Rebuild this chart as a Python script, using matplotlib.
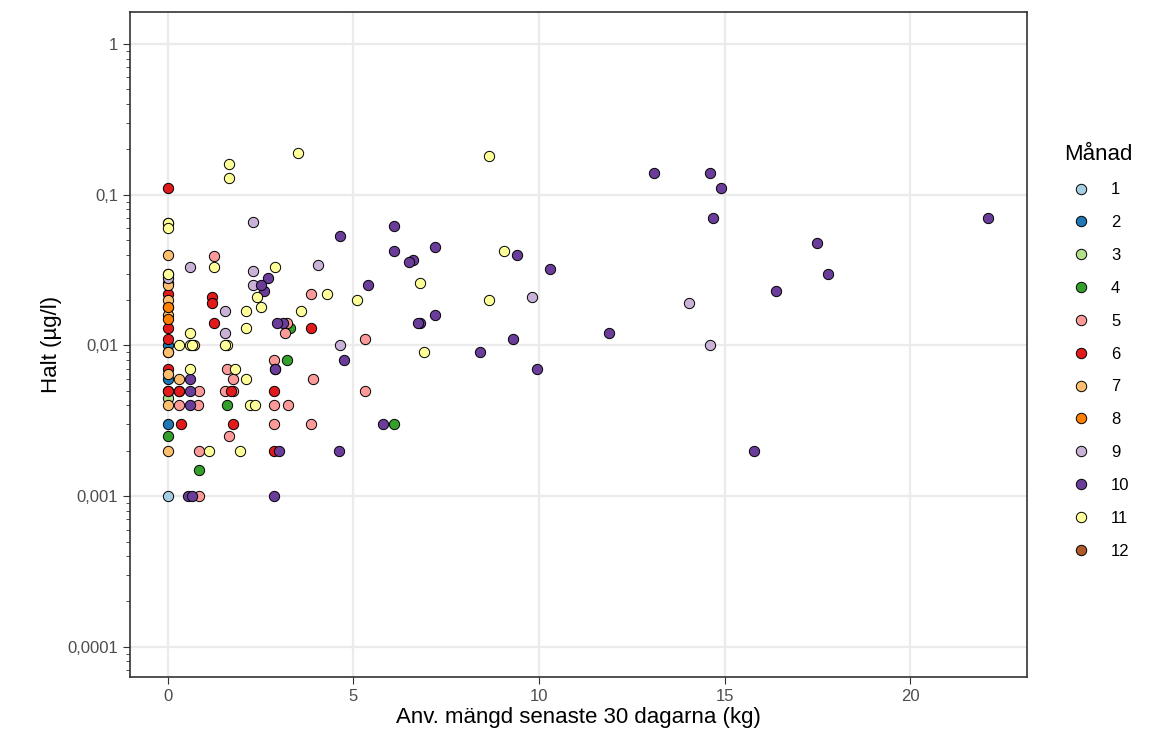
import matplotlib
matplotlib.use("Agg")
import matplotlib.pyplot as plt
from matplotlib.ticker import LogLocator, NullFormatter
from matplotlib.lines import Line2D

plt.rcParams["font.family"] = ["Liberation Sans", "DejaVu Sans"]

palette = ["#A6CEE3", "#1F78B4", "#B2DF8A", "#33A02C", "#FB9A99", "#E31A1C",
           "#FDBF6F", "#FF7F00", "#CAB2D6", "#6A3D9A", "#FFFF99", "#B15928"]

m1 = [(0, 0.001)]
m2 = [(0, 0.006), (0, 0.003), (0, 0.01)]
m3 = [(0, 0.005), (0, 0.0045)]
m4 = [(3.2, 0.008), (3.3, 0.013), (6.1, 0.003), (1.6, 0.004), (0.85, 0.0015), (0, 0.0025)]
m5 = [(1.25, 0.039), (3.85, 0.022), (5.3, 0.011), (3.2, 0.014), (3.15, 0.012), (2.85, 0.008),
      (2.9, 0.007), (1.6, 0.007), (1.75, 0.006), (1.75, 0.005), (0.85, 0.005), (1.55, 0.005),
      (3.9, 0.006), (2.85, 0.003), (2.85, 0.004), (3.25, 0.004), (3.85, 0.003), (5.3, 0.005),
      (0.8, 0.004), (1.65, 0.0025), (0.85, 0.002), (0.85, 0.001), (0.3, 0.005), (0.3, 0.004)]
m6 = [(0, 0.11), (1.2, 0.021), (1.2, 0.019), (1.25, 0.014), (3.85, 0.013), (1.7, 0.005),
      (2.85, 0.005), (2.85, 0.002), (1.75, 0.003), (0.35, 0.003), (0.3, 0.005), (0, 0.026),
      (0, 0.022), (0, 0.018), (0, 0.013), (0, 0.011), (0, 0.009), (0, 0.005), (0, 0.007)]
m7 = [(0, 0.04), (0, 0.025), (0, 0.02), (0, 0.016), (0, 0.009), (0, 0.0065), (0, 0.004),
      (0, 0.002), (0.3, 0.006), (0.7, 0.01)]
m8 = [(0, 0.018), (0, 0.015), (0, 0.065)]
m9 = [(2.3, 0.066), (0.6, 0.033), (2.3, 0.031), (2.3, 0.025), (4.05, 0.034), (1.55, 0.017),
      (1.55, 0.012), (9.8, 0.021), (14.05, 0.019), (14.6, 0.01), (4.65, 0.01), (0, 0.03), (0, 0.028)]
m10 = [(22.1, 0.07), (13.1, 0.14), (14.6, 0.14), (14.9, 0.11), (14.7, 0.07), (17.5, 0.048),
       (17.8, 0.03), (16.4, 0.023), (15.8, 0.002), (11.9, 0.012), (10.3, 0.032), (9.4, 0.04),
       (9.3, 0.011), (9.95, 0.007), (8.4, 0.009), (7.2, 0.045), (7.2, 0.016), (6.8, 0.014),
       (6.75, 0.014), (6.6, 0.037), (6.5, 0.036), (6.1, 0.062), (6.1, 0.042), (5.4, 0.025),
       (4.65, 0.053), (4.75, 0.008), (4.6, 0.002), (5.8, 0.003), (3.1, 0.014), (2.95, 0.014),
       (2.9, 0.007), (3.0, 0.002), (2.85, 0.001), (2.7, 0.028), (2.6, 0.023), (2.5, 0.025),
       (0.6, 0.006), (0.6, 0.005), (0.6, 0.004), (0.55, 0.001), (0.65, 0.001)]
m11 = [(1.65, 0.16), (1.65, 0.13), (3.5, 0.19), (8.65, 0.18), (9.05, 0.042), (8.65, 0.02),
       (6.8, 0.026), (6.9, 0.009), (5.1, 0.02), (4.3, 0.022), (3.6, 0.017), (2.9, 0.033),
       (2.4, 0.021), (2.5, 0.018), (2.1, 0.017), (2.1, 0.013), (1.25, 0.033), (0.6, 0.012),
       (0.6, 0.01), (0.65, 0.01), (0.6, 0.007), (1.6, 0.01), (1.55, 0.01), (1.8, 0.007),
       (2.1, 0.006), (2.2, 0.004), (2.35, 0.004), (1.1, 0.002), (1.95, 0.002), (0, 0.065),
       (0, 0.06), (0, 0.03), (0.3, 0.01)]
m12 = []
months = [m1, m2, m3, m4, m5, m6, m7, m8, m9, m10, m11, m12]

fig = plt.figure(figsize=(11.63, 7.49), dpi=100)
ax = fig.add_axes([130 / 1163, 72 / 749, 897 / 1163, 665 / 749])

for i, pts in enumerate(months):
    if pts:
        ax.scatter([p[0] for p in pts], [p[1] for p in pts], s=55, c=palette[i],
                   edgecolors="black", linewidths=0.7, zorder=3)

ax.set_yscale("log")
ax.set_xlim(-1.02, 23.15)
ax.set_ylim(10 ** -4.2, 1.63)
ax.set_xticks([0, 5, 10, 15, 20])
ax.set_yticks([1e-4, 1e-3, 1e-2, 1e-1, 1])
ax.set_yticklabels(["0,0001", "0,001", "0,01", "0,1", "1"])
ax.yaxis.set_minor_locator(LogLocator(base=10, subs=range(2, 10)))
ax.yaxis.set_minor_formatter(NullFormatter())
ax.grid(True, which="major", color="#EBEBEB", linewidth=1.6, zorder=0)
ax.set_axisbelow(True)
for s in ax.spines.values():
    s.set_color("#333333")
    s.set_linewidth(1.2)
ax.tick_params(which="major", length=5, color="#333333", labelsize=12, labelcolor="#4D4D4D")
ax.tick_params(axis="y", which="minor", length=3, color="#333333")
ax.set_xlabel("Anv. mängd senaste 30 dagarna (kg)", fontsize=16, labelpad=2)
ax.set_ylabel("Halt (µg/l)", fontsize=16)

handles = [Line2D([], [], marker="o", linestyle="", markersize=7.5, markerfacecolor=c,
                  markeredgecolor="black", markeredgewidth=0.7) for c in palette]
leg = ax.legend(handles, [str(i) for i in range(1, 13)], title="Månad",
                loc="center left", bbox_to_anchor=(1.025, 0.49), frameon=False,
                fontsize=12, title_fontsize=16, labelspacing=1.07, handletextpad=0.8)
leg._legend_box.align = "left"

fig.savefig("out.png", dpi=100)
